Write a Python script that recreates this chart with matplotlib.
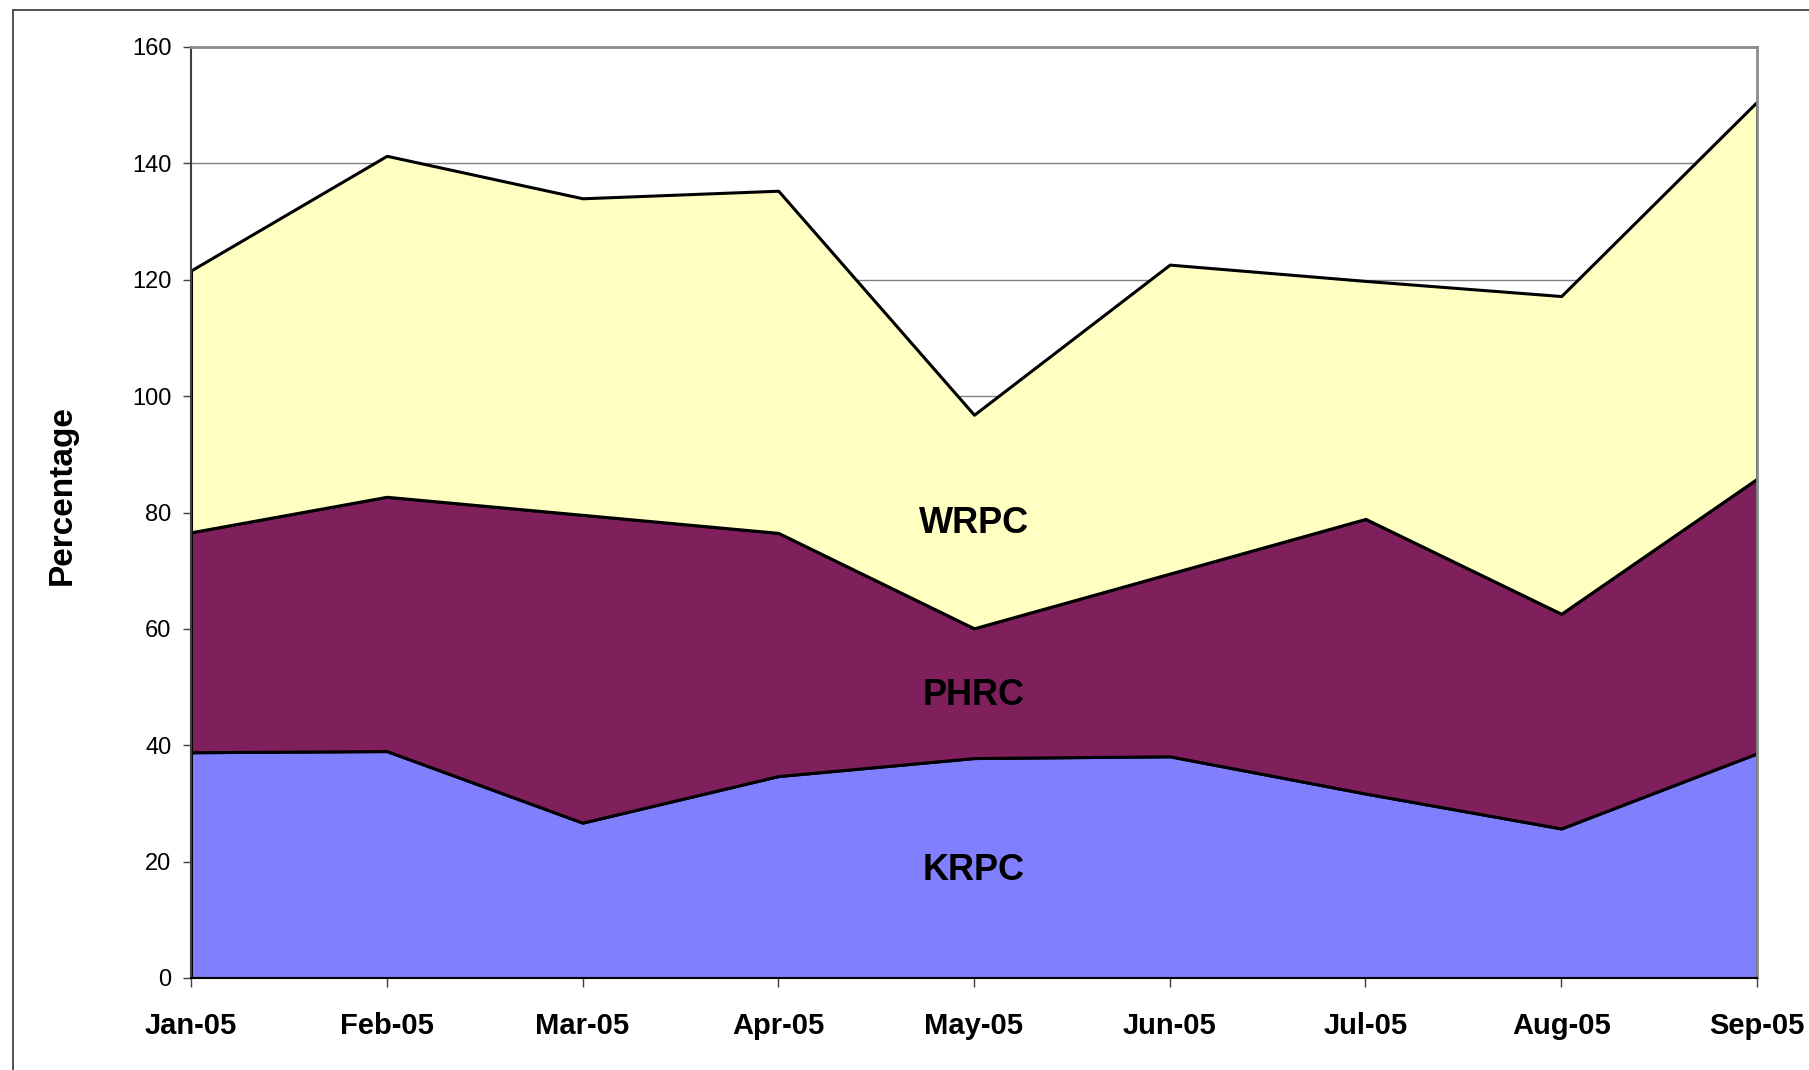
import matplotlib
matplotlib.use("Agg")
import numpy as np
from matplotlib import pyplot as plt
from matplotlib.patches import Rectangle


# data (each series is its own layer, stacked)
months = ["Jan-05", "Feb-05", "Mar-05", "Apr-05", "May-05",
          "Jun-05", "Jul-05", "Aug-05", "Sep-05"]
krpc = [38.8, 39.0, 26.7, 34.7, 37.8, 38.1, 31.7, 25.7, 38.6]
phrc = [37.8, 43.7, 52.9, 41.8, 22.3, 31.4, 47.2, 36.9, 47.2]
wrpc = [45.0, 58.6, 54.4, 58.8, 36.7, 53.1, 40.9, 54.6, 64.8]

names = ["KRPC", "PHRC", "WRPC"]
colors = ["#8080ff", "#7f1f5c", "#ffffc2"]
label_y = [18.5, 48.5, 78.1]

plt.rcParams["font.family"] = ["Liberation Sans", "DejaVu Sans"]

fig = plt.figure(figsize=(18.09, 10.70), dpi=100)
ax = fig.add_axes([191/1809, 1 - 978/1070, (1757-191)/1809, (978-47)/1070])

x = np.arange(len(months))
base = np.zeros(len(months))
for vals, col in zip([krpc, phrc, wrpc], colors):
    top = base + np.array(vals)
    ax.fill_between(x, base, top, facecolor=col, edgecolor="black",
                    linewidth=2.2, zorder=2)
    base = top

for name, yy in zip(names, label_y):
    ax.text(4, yy, name, ha="center", va="center", fontsize=26,
            fontweight="bold", zorder=3)

ax.set_xlim(0, 8)
ax.set_ylim(0, 160)
ax.set_yticks(range(0, 161, 20))
ax.set_xticks(x)
ax.set_xticklabels(months, fontsize=21, fontweight="bold")
ax.tick_params(axis="y", labelsize=17, length=6, width=1,
               color="#404040", pad=8)
ax.tick_params(axis="x", length=6.5, width=1, color="#404040", pad=18)

ax.grid(True, axis="y", color="#808080", linewidth=1, zorder=0)
ax.set_axisbelow(True)

for side in ["top", "right"]:
    ax.spines[side].set_color("#8c8c8c")
    ax.spines[side].set_linewidth(2)
ax.spines["left"].set_color("#404040")
ax.spines["left"].set_linewidth(1.5)
ax.spines["bottom"].set_color("black")
ax.spines["bottom"].set_linewidth(1.5)
for s in ax.spines.values():
    s.set_zorder(4)

fig.text(62/1809, 1 - 495/1070, "Percentage", rotation=90, fontsize=24,
         fontweight="bold", ha="center", va="center")

# outer chart-area frame (only left and top edges are visible)
fig.patches.append(Rectangle((13/1809, -0.1), 1.2, 1 - 10/1070 + 0.1,
                             transform=fig.transFigure, fill=False,
                             edgecolor="#333333", linewidth=1.2))

fig.savefig("out.png", dpi=100)
